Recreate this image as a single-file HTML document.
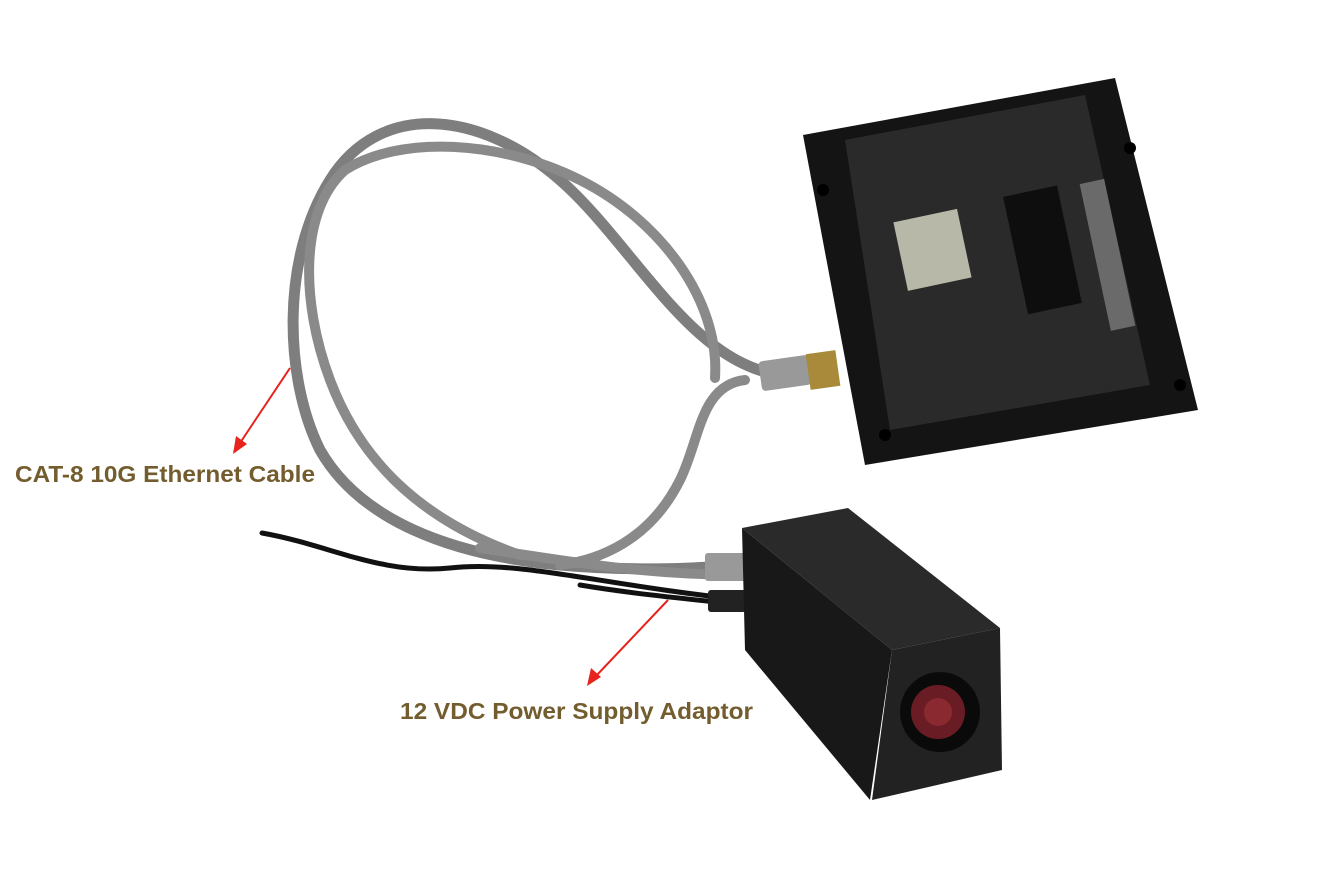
<!DOCTYPE html>
<html><head><meta charset="utf-8"><style>
html,body{margin:0;padding:0;background:#fff;width:1329px;height:879px;overflow:hidden}
svg{display:block}
text{font-family:"Liberation Sans",sans-serif;font-weight:bold;fill:#735c2e}
</style></head><body>
<svg width="1329" height="879" viewBox="0 0 1329 879">
<g fill="none" stroke-linecap="round">
<path d="M262,533 C330,545 380,575 450,568 C520,560 600,585 745,600" stroke="#111" stroke-width="5"/>
<path d="M580,585 C640,595 700,600 745,605" stroke="#111" stroke-width="5"/>
<path d="M805,375 C700,385 640,250 560,180 C480,110 380,100 330,180 C280,260 285,380 320,450 C360,520 450,555 560,565 C640,572 700,568 745,565" stroke="#7e7e7e" stroke-width="11"/>
<path d="M715,378 C720,300 660,220 580,180 C500,140 400,135 345,170 C300,210 300,300 330,380 C360,460 420,520 520,555" stroke="#8a8a8a" stroke-width="10"/>
<path d="M745,380 C700,385 700,440 680,480 C650,540 600,560 560,565" stroke="#8a8a8a" stroke-width="10"/>
<path d="M480,548 C560,560 640,575 745,575" stroke="#8a8a8a" stroke-width="10"/>
</g>
<rect x="760" y="358" width="50" height="30" rx="4" fill="#999" transform="rotate(-8 785 373)"/>
<rect x="808" y="352" width="30" height="36" fill="#a88a3a" transform="rotate(-8 823 370)"/>
<rect x="705" y="553" width="42" height="28" rx="3" fill="#999"/>
<rect x="708" y="590" width="38" height="22" rx="3" fill="#222"/>
<polygon points="803,135 1115,78 1198,410 865,465" fill="#141414"/>
<polygon points="845,140 1085,95 1150,385 890,430" fill="#2a2a2a"/>
<rect x="900" y="215" width="65" height="70" fill="#b8b8a8" transform="rotate(-12 932 250)"/>
<rect x="1015" y="190" width="55" height="120" fill="#0e0e0e" transform="rotate(-12 1042 250)"/>
<rect x="1095" y="180" width="25" height="150" fill="#6a6a6a" transform="rotate(-12 1107 255)"/>
<circle cx="1130" cy="148" r="6" fill="#000"/><circle cx="885" cy="435" r="6" fill="#000"/><circle cx="1180" cy="385" r="6" fill="#000"/><circle cx="823" cy="190" r="6" fill="#000"/>
<polygon points="742,528 848,508 1000,628 892,650" fill="#2a2a2a"/>
<polygon points="742,528 892,650 870,800 745,650" fill="#181818"/>
<polygon points="892,650 1000,628 1002,770 872,800" fill="#222"/>
<circle cx="940" cy="712" r="40" fill="#0a0a0a"/>
<circle cx="938" cy="712" r="27" fill="#6a1c24"/>
<circle cx="938" cy="712" r="14" fill="#8a2a30"/>
<g stroke="#e8221c" stroke-width="2" fill="#e8221c">
<line x1="290" y1="368" x2="240" y2="443"/>
<polygon points="233,454 236,436 247,444" stroke="none"/>
<line x1="668" y1="600" x2="596" y2="676"/>
<polygon points="587,686 591,668 601,677" stroke="none"/>
</g>
<text x="15" y="482" font-size="23" textLength="300" lengthAdjust="spacingAndGlyphs">CAT-8 10G Ethernet Cable</text>
<text x="400" y="719" font-size="23" textLength="353" lengthAdjust="spacingAndGlyphs">12 VDC Power Supply Adaptor</text>
</svg>
</body></html>
